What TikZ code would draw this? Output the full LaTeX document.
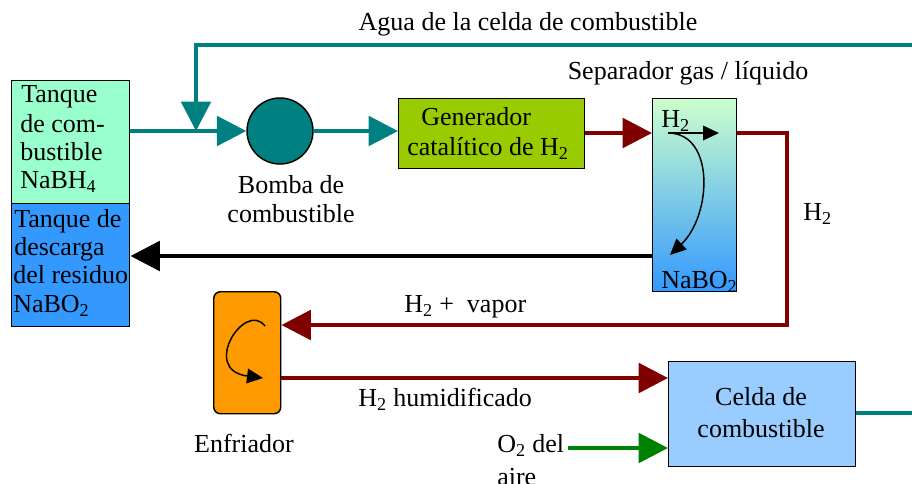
\documentclass[tikz,border=0pt]{standalone}
\usepackage{fontspec}
\setmainfont{Liberation Serif}
\usetikzlibrary{arrows.meta}
\definecolor{tealc}{HTML}{008080}
\definecolor{redc}{HTML}{800000}
\definecolor{greenc}{HTML}{008000}
\definecolor{tankgreen}{HTML}{99FFCC}
\definecolor{tankblue}{HTML}{3399FF}
\definecolor{gencol}{HTML}{99CC00}
\definecolor{septop}{HTML}{CCFFCC}
\definecolor{sepbot}{HTML}{3399FF}
\definecolor{coolcol}{HTML}{FF9900}
\definecolor{celdacol}{HTML}{99CCFF}
\begin{document}
\begin{tikzpicture}[x=0.75pt,y=-0.75pt,
  font=\fontsize{19.5}{23}\selectfont,
  lbl/.style={inner sep=0pt, anchor=base west},
  clbl/.style={inner sep=0pt, anchor=base},
  box/.style={draw=black, line width=1.1pt, inner sep=0pt, anchor=north west},
  big/.style={-{Triangle[length=22pt,width=22pt]}},
  small/.style={-{Triangle[length=12pt,width=11pt]}},
  pipe/.style={line width=3.2pt, line join=miter},
  thin/.style={line width=1.1pt}]
\useasboundingbox (0,0) rectangle (912,483);

% boxes
\node[box, fill=tankgreen, minimum width=88.5pt, minimum height=92.25pt] (tank) at (11,80) {};
\node[box, fill=tankblue, minimum width=88.5pt, minimum height=92.25pt] (waste) at (11,203) {};
\node[draw=black, line width=1.1pt, fill=tealc, circle, minimum size=49.5pt, inner sep=0pt] (pump) at (280,131) {};
\node[box, fill=gencol, minimum width=139.5pt, minimum height=52.5pt] (gen) at (398,98) {};
\node[box, top color=septop, bottom color=sepbot, minimum width=63pt, minimum height=144.75pt] (sep) at (652,98) {};
\node[box, fill=coolcol, rounded corners=5pt, minimum width=50.25pt, minimum height=91.5pt] (cool) at (213,291) {};
\node[box, fill=celdacol, minimum width=140.25pt, minimum height=78.75pt] (celda) at (668,361) {};

% texts in boxes
\node[lbl] (t1) at (21,102) {Tanque};
\node[lbl] (t2) at (20,132) {de com-};
\node[lbl] (t3) at (20,160) {bustible};
\node[lbl] (t4) at (20,188) {NaBH\textsubscript{4}};
\node[lbl] (w1) at (14,227) {Tanque de};
\node[lbl] (w2) at (14,255) {descarga};
\node[lbl] (w3) at (13,283) {del residuo};
\node[lbl] (w4) at (13,312) {NaBO\textsubscript{2}};
\node[lbl] (g1) at (421,125) {Generador};
\node[lbl] (g2) at (407,155) {catalítico de H\textsubscript{2}};
\node[lbl] (sh2) at (661,127) {H\textsubscript{2}};
\node[lbl] (snabo) at (661,288) {NaBO\textsubscript{2}};
\node[clbl] (c1) at (761,405) {Celda de};
\node[clbl] (c2) at (761,437) {combustible};

% labels
\node[clbl] (agua) at (528,30) {Agua de la celda de combustible};
\node[clbl] (separ) at (688,79) {Separador gas / líquido};
\node[clbl] (b1) at (291,193) {Bomba de};
\node[clbl] (b2) at (291,222) {combustible};
\node[lbl] (h2r) at (803,220) {H\textsubscript{2}};
\node[lbl] (h2v) at (404,312) {H\textsubscript{2} +\ \ vapor};
\node[lbl] (h2h) at (358,406) {H\textsubscript{2} humidificado};
\node[clbl] (enf) at (244,452) {Enfriador};
\node[lbl] (o2) at (497,452) {O\textsubscript{2} del};
\node[lbl] (aire) at (497,485) {aire};

% coordinates
\coordinate (tr) at (912,45);
\coordinate (tl) at (196,45);
\coordinate (j) at (196,131);
\coordinate (yA) at (0,133);
\coordinate (rc1) at (787,133);
\coordinate (rc2) at (787,325);
\coordinate (yB) at (0,256);
\coordinate (yC) at (0,378);
\coordinate (g0) at (568,448);
\coordinate (yD) at (0,413);
\coordinate (cr) at (912,413);

% connectors
\draw[pipe, tealc, big] (tr) -- (tl) -- (j);
\draw[pipe, tealc, big] (tank.east |- pump.west) -- (pump.west);
\draw[pipe, tealc, big] (pump.east) -- (gen.west |- pump.east);
\draw[pipe, redc, big] (gen.east |- yA) -- (sep.west |- yA);
\draw[pipe, redc, big] (sep.east |- yA) -- (rc1) -- (rc2) -- (cool.east |- rc2);
\draw[pipe, black, big] (sep.west |- yB) -- (waste.east |- yB);
\draw[pipe, redc, big] (cool.east |- yC) -- (celda.west |- yC);
\draw[pipe, greenc, big] (g0) -- (celda.west |- g0);
\draw[pipe, tealc] (celda.east |- yD) -- (cr);

% inner arrows
\draw[thin, small] (668,133) -- (719,133);
\draw[thin, small] (668,133) .. controls (715,133) and (712,215) .. (670,255);
\draw[thin, small] (265,326) .. controls (245,300) and (200,370) .. (263,378);
\end{tikzpicture}
\end{document}
